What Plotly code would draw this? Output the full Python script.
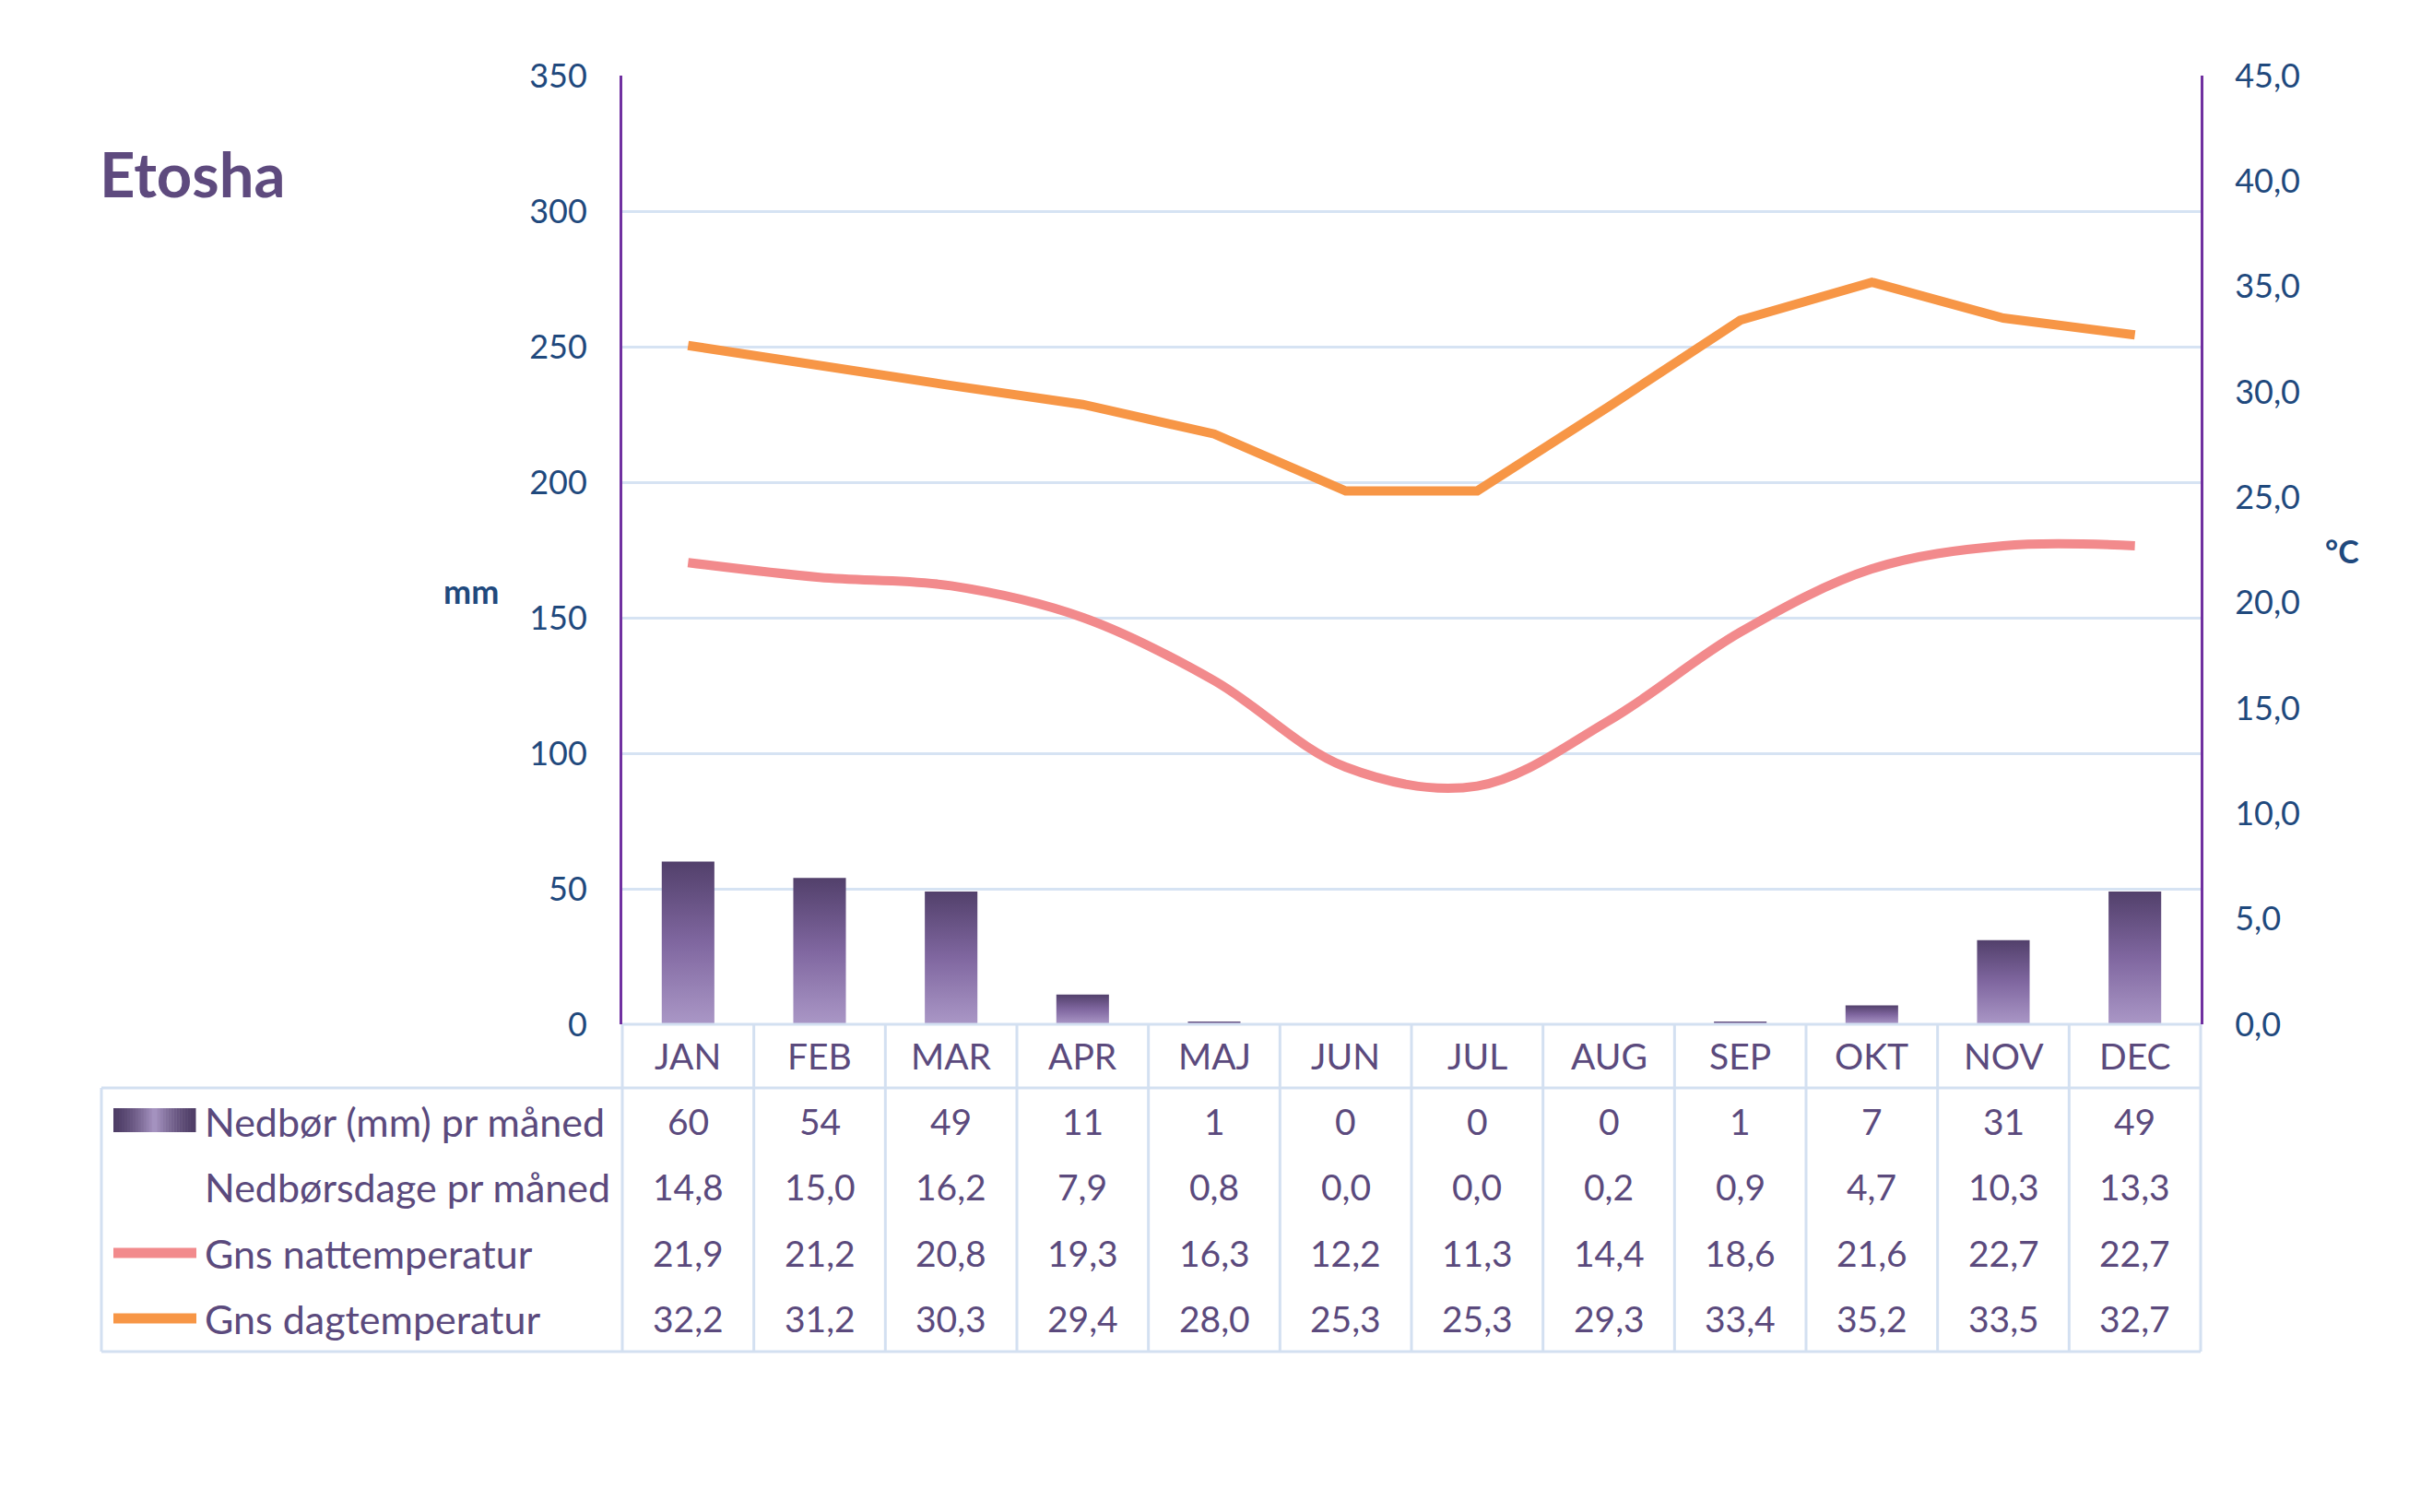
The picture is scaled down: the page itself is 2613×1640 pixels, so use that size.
import plotly.graph_objects as go

# data
months = ["JAN", "FEB", "MAR", "APR", "MAJ", "JUN", "JUL", "AUG", "SEP", "OKT", "NOV", "DEC"]
nedbor = [60, 54, 49, 11, 1, 0, 0, 0, 1, 7, 31, 49]
nedborsdage = [14.8, 15.0, 16.2, 7.9, 0.8, 0.0, 0.0, 0.2, 0.9, 4.7, 10.3, 13.3]
nat_temp = [21.9, 21.2, 20.8, 19.3, 16.3, 12.2, 11.3, 14.4, 18.6, 21.6, 22.7, 22.7]
dag_temp = [32.2, 31.2, 30.3, 29.4, 28.0, 25.3, 25.3, 29.3, 33.4, 35.2, 33.5, 32.7]
row_names = ["Nedbør (mm) pr måned", "Nedbørsdage pr måned", "Gns nattemperatur", "Gns dagtemperatur"]
mm_ticks = [0, 50, 100, 150, 200, 250, 300, 350]
c_ticks = [0, 5, 10, 15, 20, 25, 30, 35, 40, 45]

# colours / fonts
FONT = "Lato"
PURPLE_TXT = "#5B4A7D"
BLUE_TXT = "#1F497D"
AXIS_PURPLE = "#7030A0"
GRID = "#D6E3F3"
PINK = "#F28A8C"
ORANGE = "#F79646"

# plot area in pixels (page coords), O = browser body margin
L, R, T, B = 675, 2387, 82, 1111
W, H = 2613, 1640
O = 8


def px_x(p):
    return (p - L) / (R - L)


def px_y(p):
    return (B - p) / (B - T)


def mix(c1, c2, t):
    a = [int(c1[k:k + 2], 16) for k in (1, 3, 5)]
    b = [int(c2[k:k + 2], 16) for k in (1, 3, 5)]
    return "rgb(%d,%d,%d)" % tuple(round(a[j] + (b[j] - a[j]) * t) for j in range(3))


fig = go.Figure()

# precipitation bars (gradient filled)
bw = 0.2
for i, v in enumerate(nedbor):
    if v <= 0:
        continue
    fig.add_trace(go.Scatter(
        x=[i - bw, i - bw, i + bw, i + bw, i - bw],
        y=[0, v, v, 0, 0],
        fill="toself", mode="lines", line=dict(width=0),
        fillgradient=dict(type="vertical",
                          colorscale=[[0, "#AA97C6"], [0.5, "#8067A0"], [1, "#52406B"]]),
        showlegend=False, hoverinfo="skip", yaxis="y"))

fig.add_trace(go.Scatter(x=list(range(12)), y=nat_temp, yaxis="y2", mode="lines",
                         line=dict(color=PINK, width=10, shape="spline", smoothing=1.0),
                         showlegend=False, name=row_names[2]))
fig.add_trace(go.Scatter(x=list(range(12)), y=dag_temp, yaxis="y2", mode="lines",
                         line=dict(color=ORANGE, width=10),
                         showlegend=False, name=row_names[3]))

# table below the chart
ann = []
shapes = []
tbl_left = px_x(110)
hdr_bot = px_y(1180)
tbl_bot = px_y(1466)
row_y = [px_y(1216), px_y(1287), px_y(1359), px_y(1430)]
valfont = dict(family=FONT, size=39, color=PURPLE_TXT)
namefont = dict(family=FONT, size=43, color=PURPLE_TXT)

for i, m in enumerate(months):
    ann.append(dict(x=i, y=px_y(1145), xref="x", yref="paper", text=m, showarrow=False,
                    xanchor="center", yanchor="middle", font=valfont))

rows = [nedbor, nedborsdage, nat_temp, dag_temp]
for r, vals in enumerate(rows):
    ann.append(dict(x=px_x(220), y=row_y[r], xref="paper", yref="paper", text=row_names[r],
                    showarrow=False, xanchor="left", yanchor="middle", font=namefont))
    for i, v in enumerate(vals):
        txt = str(v) if r == 0 else f"{v:.1f}".replace(".", ",")
        ann.append(dict(x=i, y=row_y[r], xref="x", yref="paper", text=txt, showarrow=False,
                        xanchor="center", yanchor="middle", font=valfont))

border = dict(color="#D3E0F1", width=3)
# horizontal table lines
shapes.append(dict(type="line", xref="paper", yref="paper", x0=0, x1=1, y0=0, y1=0, line=border))
shapes.append(dict(type="line", xref="paper", yref="paper", x0=tbl_left, x1=1, y0=hdr_bot, y1=hdr_bot, line=border))
shapes.append(dict(type="line", xref="paper", yref="paper", x0=tbl_left, x1=1, y0=tbl_bot, y1=tbl_bot, line=border))
# vertical table lines
for k in range(13):
    shapes.append(dict(type="line", xref="paper", yref="paper", x0=k / 12, x1=k / 12,
                       y0=0, y1=tbl_bot, line=border))
shapes.append(dict(type="line", xref="paper", yref="paper", x0=tbl_left, x1=tbl_left,
                   y0=hdr_bot, y1=tbl_bot, line=border))

# legend keys in the table: bar key with a soft horizontal gradient
k0, k1, n = 123, 212, 30
for s in range(n):
    t = 1 - abs((s + 0.5) / n - 0.5) * 2
    shapes.append(dict(type="rect", xref="paper", yref="paper",
                       x0=px_x(k0 + (k1 - k0) * s / n), x1=px_x(k0 + (k1 - k0) * (s + 1) / n + 0.5),
                       y0=px_y(1228), y1=px_y(1202), fillcolor=mix("#4E3D66", "#A996C4", t ** 1.5),
                       line=dict(width=0)))
shapes.append(dict(type="line", xref="paper", yref="paper", x0=px_x(123), x1=px_x(213),
                   y0=row_y[2], y1=row_y[2], line=dict(color=PINK, width=11)))
shapes.append(dict(type="line", xref="paper", yref="paper", x0=px_x(123), x1=px_x(213),
                   y0=row_y[3], y1=row_y[3], line=dict(color=ORANGE, width=11)))

# title and axis units
ann.append(dict(x=px_x(106), y=px_y(188), xref="paper", yref="paper", text="<b>Etosha</b>",
                showarrow=False, xanchor="left", yanchor="middle",
                font=dict(family=FONT, size=67, color="#5E4A7E")))
ann.append(dict(x=px_x(511), y=px_y(641), xref="paper", yref="paper", text="<b>mm</b>",
                showarrow=False, xanchor="center", yanchor="middle",
                font=dict(family=FONT, size=36, color=BLUE_TXT)))
ann.append(dict(x=px_x(2540), y=px_y(597), xref="paper", yref="paper", text="<b>°C</b>",
                showarrow=False, xanchor="center", yanchor="middle",
                font=dict(family=FONT, size=34, color=BLUE_TXT)))

tickfont = dict(family=FONT, size=36, color=BLUE_TXT)
fig.update_layout(
    width=W - 2 * O, height=H - 2 * O,
    margin=dict(l=L - O, r=W - R - O, t=T - O, b=H - B - O, pad=0),
    paper_bgcolor="white", plot_bgcolor="white",
    separators=",.",
    showlegend=False,
    xaxis=dict(range=[-0.5, 11.5], showticklabels=False, showgrid=False, zeroline=False,
               showline=False, ticks=""),
    yaxis=dict(range=[0, 350], tickvals=mm_ticks, showgrid=False, zeroline=False,
               showline=True, linecolor=AXIS_PURPLE, linewidth=3, ticks="",
               ticklabelstandoff=28, tickfont=tickfont,
               minor=dict(tickvals=mm_ticks[1:-1], showgrid=True, gridcolor=GRID,
                          gridwidth=2.5, ticks="")),
    yaxis2=dict(range=[0, 45], tickvals=c_ticks, tickformat=".1f", overlaying="y",
                side="right", showgrid=False, zeroline=False, showline=True,
                linecolor=AXIS_PURPLE, linewidth=3, ticks="", ticklabelstandoff=27,
                tickfont=tickfont),
    annotations=ann,
    shapes=shapes,
)

fig.write_html("out.html")
